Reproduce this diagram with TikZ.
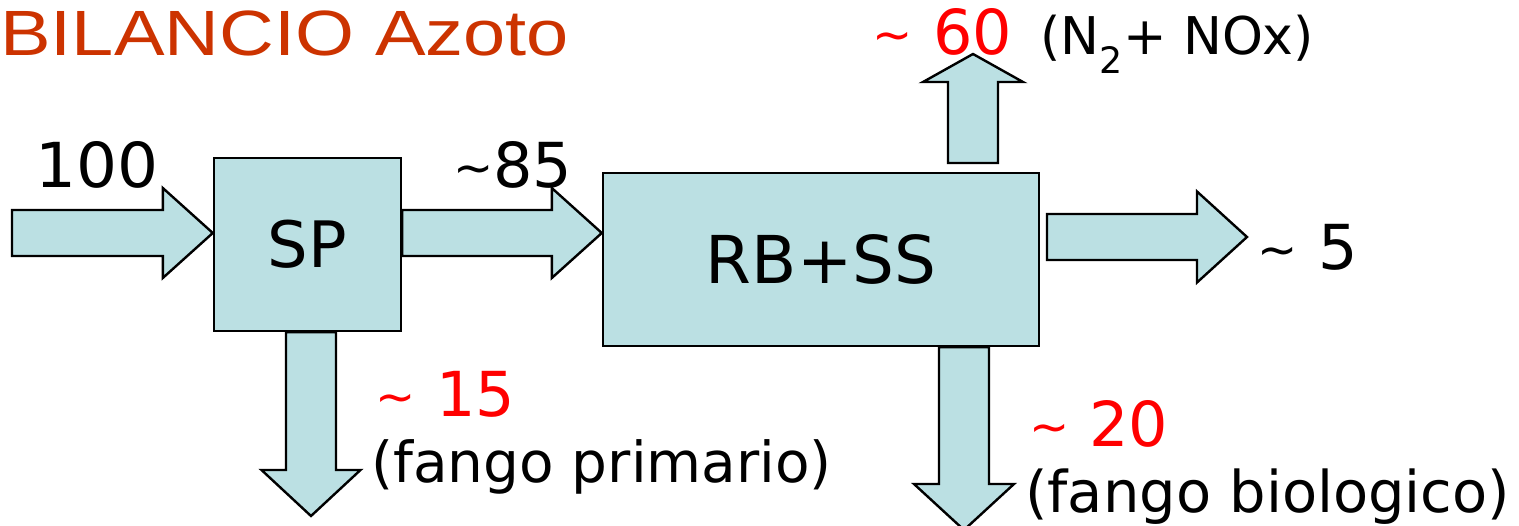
\documentclass[tikz,border=0pt]{standalone}
\usepackage{fontspec}
\setmainfont{DejaVu Sans}
\newfontfamily\titlefont{Liberation Sans}
\usetikzlibrary{calc}
\definecolor{boxfill}{RGB}{187,224,227}
\definecolor{titlecol}{RGB}{204,51,0}
\definecolor{numred}{RGB}{255,0,0}
\newcommand{\tl}{{\fontsize{48}{48}\selectfont\raisebox{3pt}{\textasciitilde}}}
\newcommand{\fs}[1]{\fontsize{#1}{#1}\selectfont}
% horizontal block arrow: start, tip, shaft half width, head half width, head length
\newcommand{\harrow}[5]{\draw[barrow] let \p1=(#1),\p2=(#2) in
  (\x1,{\y2+#3pt}) -- ({\x2-#5pt},{\y2+#3pt}) -- ({\x2-#5pt},{\y2+#4pt}) -- (\x2,\y2)
  -- ({\x2-#5pt},{\y2-#4pt}) -- ({\x2-#5pt},{\y2-#3pt}) -- (\x1,{\y2-#3pt}) -- cycle;}
% vertical block arrow: start, tip, shaft half width, head half width, signed head length
\newcommand{\varrow}[5]{\draw[barrow] let \p1=(#1),\p2=(#2) in
  ({\x2-#3pt},\y1) -- ({\x2-#3pt},{\y2+#5pt}) -- ({\x2-#4pt},{\y2+#5pt}) -- (\x2,\y2)
  -- ({\x2+#4pt},{\y2+#5pt}) -- ({\x2+#3pt},{\y2+#5pt}) -- ({\x2+#3pt},\y1) -- cycle;}
\tikzset{
  proc/.style={draw=black, fill=boxfill, line width=2.4pt, inner sep=0pt},
  barrow/.style={draw=black, fill=boxfill, line width=2.4pt, line join=miter},
  lbl/.style={anchor=base west, inner sep=0pt, text=black},
  rlbl/.style={anchor=base west, inner sep=0pt, text=numred},
}
\begin{document}
\begin{tikzpicture}[x=1pt, y=-1pt]
\useasboundingbox (0,0) rectangle (1519,526);
% title
\node[anchor=base west, inner sep=0pt, text=titlecol] (title) at (0,56)
  {\scalebox{1.185}[1]{\titlefont\fs{64}BILANCIO Azoto}};
% process boxes
\node[proc, minimum width=187pt, minimum height=173pt] (SP) at (307.5,244.5) {\fs{64}SP};
\node[proc, minimum width=436pt, minimum height=173pt] (RB) at (821,259.5) {\fs{66}RB+SS};
% arrow coordinates
\coordinate (in0) at (12,233);
\coordinate (o5s) at (1047,237);
\coordinate (o5t) at (1247,237);
\coordinate (gs) at (973,163);
\coordinate (gt) at (973,54);
\coordinate (p1t) at (311,516);
\coordinate (p2t) at (964,530);
% block arrows
\harrow{in0}{SP.west |- in0}{23}{45}{50}
\harrow{SP.east |- in0}{RB.west |- in0}{23}{45}{50}
\harrow{o5s}{o5t}{23}{45.5}{50}
\varrow{gs}{gt}{25}{50}{-28}
\varrow{SP.south -| p1t}{p1t}{25}{49.5}{46}
\varrow{RB.south -| p2t}{p2t}{25}{50}{46}
% labels
\node[lbl] (l100) at (35,188) {\scalebox{1.04}[1]{\fs{62}100}};
\node[lbl] (l85) at (453,188) {\fs{62}\tl\hspace{0pt}85};
\node[lbl] (l5) at (1257,270) {\fs{62}\tl\hspace{21pt}5};
\node[rlbl] (l60) at (872,55) {\fs{62}\tl\hspace{21pt}60};
\node[lbl] (lgas) at (1040,55) {\fs{52}(N\textsubscript{2}+ NOx)};
\node[rlbl] (l15) at (375,417) {\fs{62}\tl\hspace{21pt}15};
\node[lbl] (lprim) at (371,483) {\fs{56.5}(fango primario)};
\node[rlbl] (l20) at (1029,447) {\fs{62}\tl\hspace{20pt}20};
\node[lbl] (lbio) at (1025,512) {\fs{57.5}(fango biologico)};
\end{tikzpicture}
\end{document}
